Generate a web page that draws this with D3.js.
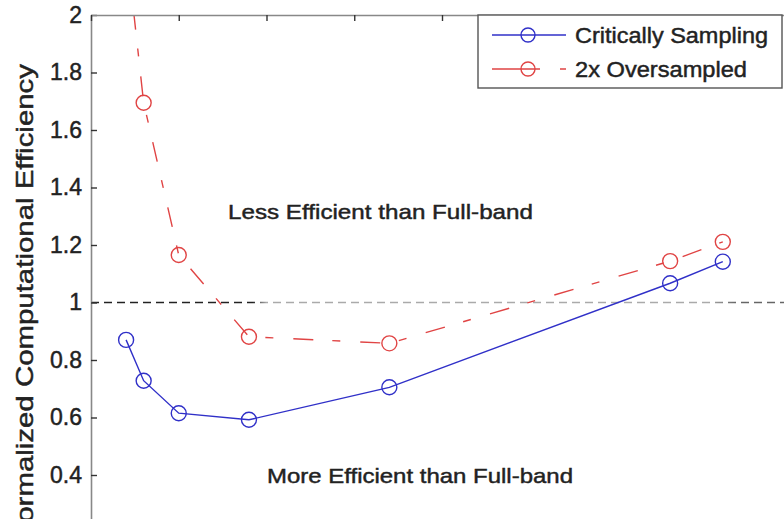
<!DOCTYPE html>
<html>
<head>
<meta charset="utf-8">
<script src="https://cdn.jsdelivr.net/npm/d3@7"></script>
<style>
  body { margin: 0; background: #fff; }
  svg { display: block; font-family: "Liberation Sans", Arial, sans-serif; }
  .heavy { stroke: #222; stroke-width: 0.45px; paint-order: stroke; }
</style>
</head>
<body>
<div id="chart"></div>
<script>
// Data
const xValues = [2, 3, 5, 9, 17, 33, 36];
const criticalValues = [0.87, 0.728, 0.615, 0.592, 0.705, 1.067, 1.142];
const oversampledValues = [2.25, 1.695, 1.165, 0.881, 0.858, 1.144, 1.211];
const yTicks = [0.4, 0.6, 0.8, 1, 1.2, 1.4, 1.6, 1.8, 2];
const xTicks = [0, 5, 10, 15, 20, 25, 30, 35, 40];
const seriesNames = ["Critically Sampling", "2x Oversampled"];
const referenceLevel = 1;

const width = 784, height = 519;

const svg = d3.select("#chart")
    .append("svg")
    .attr("width", width)
    .attr("height", height);

// Scales (plot area runs past the right and bottom edges of the picture)
const x = d3.scaleLinear().domain([0, 40]).range([91, 793]);
const y = d3.scaleLinear().domain([0.2, 2]).range([532.5, 15]);

const defs = svg.append("defs");
defs.append("clipPath").attr("id", "plotClip")
    .append("rect")
    .attr("x", x(0)).attr("y", y(2))
    .attr("width", x(40) - x(0)).attr("height", y(0.2) - y(2));

// dashed reference line, dark on the left and fading to grey (as in the scan)
const grad = defs.append("linearGradient")
    .attr("id", "refGrad")
    .attr("gradientUnits", "userSpaceOnUse")
    .attr("x1", x(0)).attr("x2", x(40)).attr("y1", 0).attr("y2", 0);
[[0, "#222"], [0.23, "#222"], [0.25, "#aaa"], [0.88, "#aaa"], [0.92, "#666"], [1, "#666"]]
    .forEach(s => grad.append("stop").attr("offset", s[0]).attr("stop-color", s[1]));

const plot = svg.append("g").attr("clip-path", "url(#plotClip)");

plot.append("line")
    .attr("x1", x(0)).attr("x2", x(40))
    .attr("y1", y(referenceLevel)).attr("y2", y(referenceLevel))
    .attr("stroke", "url(#refGrad)")
    .attr("stroke-width", 1.6)
    .attr("stroke-dasharray", "8,5");

// Axes frame
const leftAxis = svg.append("g")
    .attr("transform", `translate(${x(0)},0)`)
    .call(d3.axisLeft(y).tickValues(yTicks).tickSizeInner(-6).tickSizeOuter(0)
        .tickPadding(9).tickFormat(d3.format("~g")));
leftAxis.select(".domain").attr("stroke", "#888").attr("stroke-width", 1.6);
leftAxis.selectAll(".tick line").attr("stroke", "#333").attr("stroke-width", 1.4);
leftAxis.selectAll(".tick text")
    .attr("class", "heavy")
    .attr("fill", "#222")
    .style("font-size", "23px");

const topAxis = svg.append("g")
    .attr("transform", `translate(0,${y(2)})`)
    .call(d3.axisTop(x).tickValues(xTicks).tickSizeInner(-6).tickSizeOuter(0).tickFormat(""));
topAxis.select(".domain").attr("stroke", "#888").attr("stroke-width", 1.6);
topAxis.selectAll(".tick line").attr("stroke", "#333").attr("stroke-width", 1.4);

// Series
const series = [
    { name: seriesNames[0], values: criticalValues, color: "#3030c8", dash: null },
    { name: seriesNames[1], values: oversampledValues, color: "#e04444", dash: "20,19,8,20" }
];

const line = d3.line()
    .x((d, i) => x(xValues[i]))
    .y(d => y(d));

series.forEach(s => {
    plot.append("path")
        .datum(s.values)
        .attr("d", line)
        .attr("fill", "none")
        .attr("stroke", s.color)
        .attr("stroke-width", 1.4)
        .attr("stroke-dasharray", s.dash);
    plot.selectAll(null)
        .data(s.values)
        .enter()
        .append("circle")
        .attr("cx", (d, i) => x(xValues[i]))
        .attr("cy", d => y(d))
        .attr("r", 7.5)
        .attr("fill", "none")
        .attr("stroke", s.color)
        .attr("stroke-width", 1.4);
});

// Region annotations
svg.append("text")
    .attr("class", "heavy")
    .attr("x", 228).attr("y", 219)
    .attr("textLength", 305).attr("lengthAdjust", "spacingAndGlyphs")
    .style("font-size", "21px").attr("fill", "#222")
    .text("Less Efficient than Full-band");

svg.append("text")
    .attr("class", "heavy")
    .attr("x", 267).attr("y", 483)
    .attr("textLength", 306).attr("lengthAdjust", "spacingAndGlyphs")
    .style("font-size", "21px").attr("fill", "#222")
    .text("More Efficient than Full-band");

// Y label
svg.append("text")
    .attr("class", "heavy")
    .attr("transform", "translate(33,64) rotate(-90)")
    .attr("text-anchor", "end")
    .attr("textLength", 480).attr("lengthAdjust", "spacingAndGlyphs")
    .style("font-size", "24px").attr("fill", "#222")
    .text("Normalized Computational Efficiency");

// Legend
const legend = svg.append("g");
legend.append("rect")
    .attr("x", 478).attr("y", 15)
    .attr("width", 304).attr("height", 73)
    .attr("fill", "#fff")
    .attr("stroke", "#555")
    .attr("stroke-width", 1.4);

const legendWidths = [193, 172];
series.forEach((s, i) => {
    const ly = 35 + i * 34;
    legend.append("line")
        .attr("x1", 492).attr("x2", 566)
        .attr("y1", ly).attr("y2", ly)
        .attr("stroke", s.color)
        .attr("stroke-width", 1.4)
        .attr("stroke-dasharray", s.dash ? "48,20,6,20" : null);
    legend.append("circle")
        .attr("cx", 528).attr("cy", ly).attr("r", 7)
        .attr("fill", "none")
        .attr("stroke", s.color)
        .attr("stroke-width", 1.4);
    legend.append("text")
        .attr("class", "heavy")
        .attr("x", 575).attr("y", ly + 8)
        .attr("textLength", legendWidths[i]).attr("lengthAdjust", "spacingAndGlyphs")
        .style("font-size", "22px").attr("fill", "#222")
        .text(s.name);
});
</script>
</body>
</html>
